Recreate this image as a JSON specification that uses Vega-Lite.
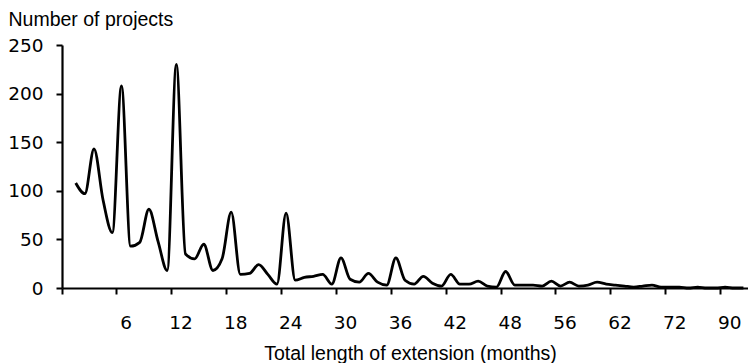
{
  "$schema": "https://vega.github.io/schema/vega-lite/v6.json",
  "width": 686,
  "height": 243,
  "autosize": {"type": "none"},
  "padding": {"left": 62, "top": 45, "right": 0, "bottom": 75},
  "background": "white",
  "config": {"view": {"stroke": null}},
  "data": {
    "values": [
      {"month": 1, "projects": 108}, {"month": 2, "projects": 97}, {"month": 3, "projects": 143},
      {"month": 4, "projects": 90}, {"month": 5, "projects": 57}, {"month": 6, "projects": 208},
      {"month": 7, "projects": 43}, {"month": 8, "projects": 47}, {"month": 9, "projects": 81},
      {"month": 10, "projects": 48}, {"month": 11, "projects": 18}, {"month": 12, "projects": 230},
      {"month": 13, "projects": 35}, {"month": 14, "projects": 30}, {"month": 15, "projects": 45},
      {"month": 16, "projects": 18}, {"month": 17, "projects": 30}, {"month": 18, "projects": 78},
      {"month": 19, "projects": 14}, {"month": 20, "projects": 15}, {"month": 21, "projects": 24},
      {"month": 22, "projects": 14}, {"month": 23, "projects": 4}, {"month": 24, "projects": 77},
      {"month": 25, "projects": 8}, {"month": 26, "projects": 11}, {"month": 27, "projects": 12},
      {"month": 28, "projects": 14}, {"month": 29, "projects": 4}, {"month": 30, "projects": 31},
      {"month": 31, "projects": 9}, {"month": 32, "projects": 6}, {"month": 33, "projects": 15},
      {"month": 34, "projects": 6}, {"month": 35, "projects": 3}, {"month": 36, "projects": 31},
      {"month": 37, "projects": 8}, {"month": 38, "projects": 4}, {"month": 39, "projects": 12},
      {"month": 40, "projects": 5}, {"month": 41, "projects": 2}, {"month": 42, "projects": 14},
      {"month": 43, "projects": 4}, {"month": 44, "projects": 4}, {"month": 45, "projects": 7},
      {"month": 46, "projects": 2}, {"month": 47, "projects": 1}, {"month": 48, "projects": 17},
      {"month": 49, "projects": 3}, {"month": 50, "projects": 3}, {"month": 51, "projects": 3},
      {"month": 52, "projects": 2}, {"month": 54, "projects": 7}, {"month": 56, "projects": 2},
      {"month": 57, "projects": 6}, {"month": 58, "projects": 2}, {"month": 59, "projects": 3},
      {"month": 60, "projects": 6}, {"month": 61, "projects": 4}, {"month": 62, "projects": 3},
      {"month": 63, "projects": 2}, {"month": 64, "projects": 1}, {"month": 66, "projects": 2},
      {"month": 68, "projects": 3}, {"month": 70, "projects": 1}, {"month": 72, "projects": 1},
      {"month": 74, "projects": 1}, {"month": 78, "projects": 0}, {"month": 80, "projects": 1},
      {"month": 84, "projects": 0}, {"month": 87, "projects": 0}, {"month": 90, "projects": 1},
      {"month": 96, "projects": 0}, {"month": 120, "projects": 0}
    ]
  },
  "mark": {"type": "line", "interpolate": "monotone", "color": "black", "strokeWidth": 2.8},
  "encoding": {
    "x": {
      "field": "month",
      "type": "ordinal",
      "bandPosition": 0.5,
      "sort": null,
      "scale": {
        "type": "band",
        "paddingInner": 0,
        "paddingOuter": 0,
        "domain": [0,1,2,3,4,5,6,7,8,9,10,11,12,13,14,15,16,17,18,19,20,21,22,23,24,25,26,27,28,29,30,31,32,33,34,35,36,37,38,39,40,41,42,43,44,45,46,47,48,49,50,51,52,54,56,57,58,59,60,61,62,63,64,66,68,70,72,74,78,80,84,87,90,96,120]
      },
      "axis": {
        "values": [0,6,12,18,24,30,36,42,48,56,62,72,90],
        "bandPosition": 0,
        "labelOffset": 4.57,
        "labelExpr": "datum.value == 0 ? '' : datum.label",
        "labelAngle": 0,
        "labelOverlap": false,
        "labelFlush": false,
        "labelFont": "DejaVu Sans",
        "labelFontSize": 18.5,
        "labelColor": "black",
        "labelPadding": 19,
        "ticks": true,
        "tickColor": "black",
        "tickWidth": 2,
        "tickSize": 6,
        "tickOpacity": 1,
        "domain": true,
        "domainColor": "black",
        "domainWidth": 2.2,
        "domainOpacity": 1,
        "grid": false,
        "title": "Total length of extension (months)",
        "titleFont": "Liberation Sans",
        "titleFontSize": 19.5,
        "titleFontWeight": "normal",
        "titleColor": "black",
        "titleX": 348,
        "titleY": 71,
        "titleAlign": "center",
        "titleBaseline": "alphabetic"
      }
    },
    "y": {
      "field": "projects",
      "type": "quantitative",
      "scale": {"domain": [0, 250], "nice": false},
      "axis": {
        "values": [0, 50, 100, 150, 200, 250],
        "labelFont": "DejaVu Sans",
        "labelFontSize": 18.5,
        "labelColor": "black",
        "labelPadding": 13,
        "ticks": true,
        "tickColor": "black",
        "tickWidth": 2,
        "tickSize": 6,
        "tickOpacity": 1,
        "domain": true,
        "domainColor": "black",
        "domainWidth": 2.2,
        "domainOpacity": 1,
        "grid": false,
        "title": "Number of projects",
        "titleFont": "Liberation Sans",
        "titleFontSize": 19.5,
        "titleFontWeight": "normal",
        "titleColor": "black",
        "titleAngle": 0,
        "titleX": -54,
        "titleY": -20,
        "titleAlign": "left",
        "titleBaseline": "alphabetic"
      }
    }
  }
}
